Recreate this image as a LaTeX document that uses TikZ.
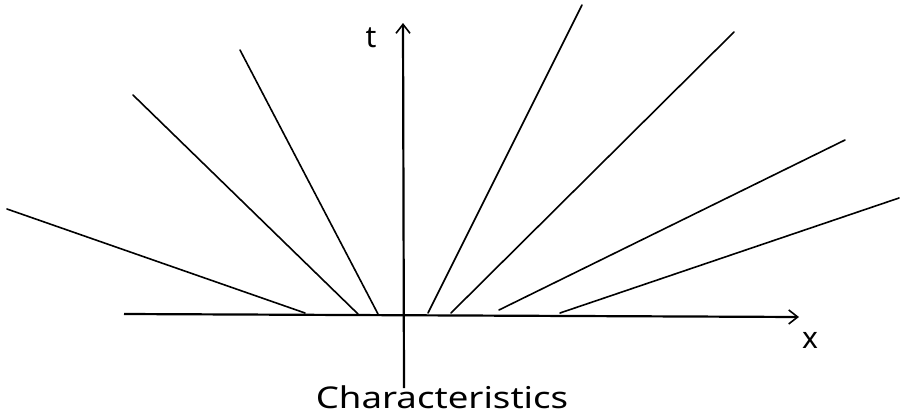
\documentclass[tikz,border=0pt]{standalone}
\usepackage{fontspec}
\setmainfont{Noto Sans}
\usetikzlibrary{arrows.meta}
\begin{document}
\begin{tikzpicture}[x=1pt,y=-1pt,
  axisline/.style={line width=2.2pt,-{Straight Barb[length=9pt,width=14pt,line width=1.6pt]}},
  ray/.style={line width=1.6pt,line cap=round},
  lbl/.style={inner sep=0pt,font=\fontsize{30}{34}\selectfont}]
\useasboundingbox (0,0) rectangle (900,418);
% axes
\coordinate (xs) at (124,314);
\coordinate (xe) at (799,317);
\coordinate (tb) at (404,388);
\coordinate (te) at (403,23);
\draw[axisline] (xs) -- (xe);
\draw[axisline] (tb) -- (te);
\node[lbl] (tl) at (371,38) {t};
\node[lbl] (xl) at (810,340) {x};
\node[lbl,xscale=1.22] (cap) at (442,397) {Characteristics};
% rays
\coordinate (l1a) at (305,313); \coordinate (l1b) at (7,209);
\coordinate (l2a) at (358,314); \coordinate (l2b) at (133,95);
\coordinate (l3a) at (378,314); \coordinate (l3b) at (240,50);
\coordinate (r1a) at (428,313); \coordinate (r1b) at (582,5);
\coordinate (r2a) at (451,313); \coordinate (r2b) at (734,32);
\coordinate (r3a) at (499,310); \coordinate (r3b) at (845,140);
\coordinate (r4a) at (560,313); \coordinate (r4b) at (899,198);
\foreach \r in {l1,l2,l3,r1,r2,r3,r4}{\draw[ray] (\r a) -- (\r b);}
\end{tikzpicture}
\end{document}
